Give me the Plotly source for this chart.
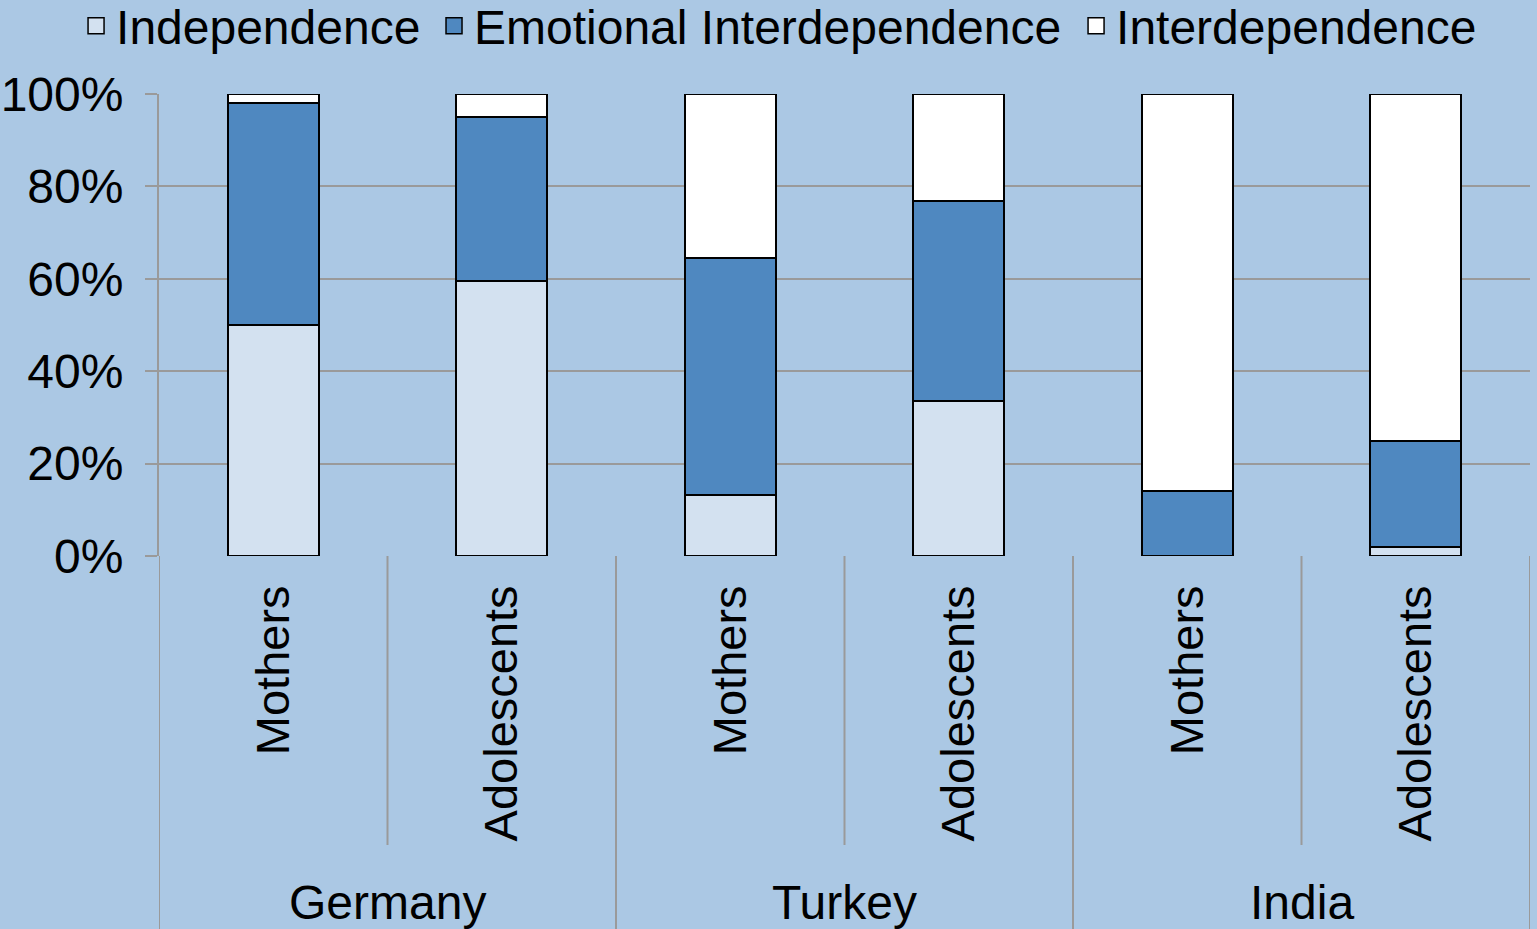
import plotly.graph_objects as go

countries = ["Germany", "Germany", "Turkey", "Turkey", "India", "India"]
groups = ["Mothers", "Adolescents", "Mothers", "Adolescents", "Mothers", "Adolescents"]
independence = [50, 59.5, 13.2, 33.5, 0, 2]
emotional = [48, 35.5, 51.3, 43.3, 14.1, 23]
interdependence = [2, 5, 35.5, 23.2, 85.9, 75]
y_ticks = [0, 20, 40, 60, 80, 100]

series = [
    ("Independence", independence, "#d3e1f0"),
    ("Emotional Interdependence", emotional, "#4f88c0"),
    ("Interdependence", interdependence, "#ffffff"),
]
# legend entry left edges (paper fraction of plot width)
legend_x = [-0.0605, 0.2006, 0.6689]

FONT = "Liberation Sans, Arial, Helvetica, sans-serif"
GRID = "#9a9a9a"
BG = "#abc8e4"
FS = 48

x = list(range(len(groups)))
fig = go.Figure()
for name, vals, col in series:
    fig.add_trace(go.Bar(
        x=x, y=[v / 100 for v in vals], name=name, width=0.4,
        marker=dict(color=col, line=dict(color="black", width=2)),
        showlegend=False,
    ))
legend_layout = {}
for k, (name, vals, col) in enumerate(series):
    lid = "legend" if k == 0 else f"legend{k + 1}"
    fig.add_trace(go.Scatter(
        x=[None], y=[None], mode="markers", name=name, legend=lid,
        marker=dict(symbol="square", size=20, color=col, line=dict(color="black", width=1.5)),
    ))
    legend_layout[lid] = dict(orientation="h", xref="paper", yref="paper", x=legend_x[k],
                              xanchor="left", y=1.2294, yanchor="top",
                              font=dict(size=FS, family=FONT, color="black"),
                              bgcolor="rgba(0,0,0,0)", itemwidth=30)

shapes = []
for i in range(len(groups) + 1):
    pos = i - 0.5
    outer = (i == 0 or i == len(groups) or countries[i - 1] != countries[i])
    shapes.append(dict(type="line", xref="x", yref="paper", x0=pos, x1=pos,
                       y0=0, y1=-0.82 if outer else -0.6255,
                       line=dict(color=GRID, width=2), layer="below"))

annotations = []
seen = []
for c in countries:
    if c not in seen:
        seen.append(c)
for c in seen:
    idx = [i for i, cc in enumerate(countries) if cc == c]
    annotations.append(dict(text=c, x=sum(idx) / len(idx), xref="x", y=-0.751, yref="paper",
                            showarrow=False, yanchor="middle", xanchor="center",
                            font=dict(size=FS, color="black", family=FONT)))

fig.update_layout(
    width=1537, height=929,
    margin=dict(l=159, r=7, t=94, b=373, autoexpand=False),
    paper_bgcolor=BG, plot_bgcolor=BG,
    barmode="stack",
    font=dict(family=FONT, size=FS, color="black"),
    shapes=shapes, annotations=annotations,
    xaxis=dict(range=[-0.5, len(groups) - 0.5], tickvals=x, ticktext=groups, tickangle=-90,
               showgrid=False, zeroline=False, showline=False, ticks="", automargin=False,
               ticklabelstandoff=19, tickfont=dict(size=47)),
    yaxis=dict(range=[0, 1], tickvals=[v / 100 for v in y_ticks],
               ticktext=[f"{v}%" for v in y_ticks], automargin=False,
               showgrid=True, gridcolor=GRID, gridwidth=2, zeroline=False,
               showline=True, linecolor=GRID, linewidth=2,
               ticks="outside", ticklen=12, tickcolor=GRID, tickwidth=2,
               ticklabelstandoff=12, tickfont=dict(size=FS)),
    **legend_layout,
)

fig.write_html("out.html", config={"displayModeBar": False},
               post_script="document.body.style.margin='0px';document.body.style.overflow='hidden';")
